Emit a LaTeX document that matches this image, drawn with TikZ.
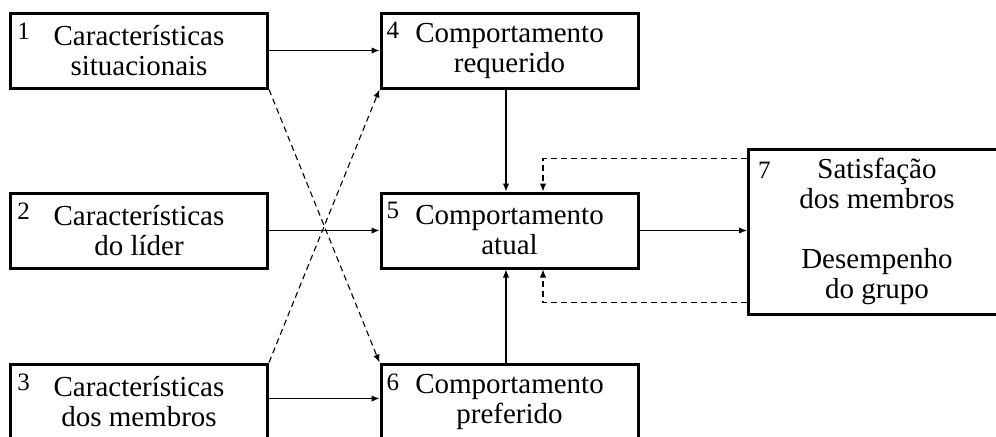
\documentclass[tikz,border=0pt]{standalone}
\usepackage{fontspec}
\setmainfont{Liberation Serif}
\usetikzlibrary{arrows.meta}
\begin{document}
\begin{tikzpicture}[x=0.5pt,y=-0.5pt,
  box/.style={draw, line width=1.5pt, rectangle, minimum width=128.5pt, minimum height=37.5pt,
    align=center, inner sep=0pt, font=\fontsize{14.5}{15}\selectfont},
  bigbox/.style={box, minimum height=82.5pt},
  numlab/.style={anchor=north west, inner sep=0pt, font=\fontsize{12.5}{13}\selectfont},
  arr/.style={-{Latex[length=4pt,width=3.2pt]}, line width=0.55pt},
  darr/.style={arr, dash pattern=on 3pt off 2pt}]
\useasboundingbox (0,0) rectangle (996,436);
\node[box] (b1) at (139,50.5) {Características\\situacionais};
\node[box] (b2) at (139,230.5) {Características\\do líder};
\node[box] (b3) at (139,401.5) {Características\\dos membros};
\node[box] (b4) at (509.5,50.5) {Comportamento\\requerido};
\node[box] (b5) at (509.5,230.5) {Comportamento\\atual};
\node[box] (b6) at (509.5,401.5) {Comportamento\\preferido};
\node[bigbox] (b7) at (877,231.5) {Satisfação\\dos membros\\[15pt]Desempenho\\do grupo};
\node[numlab] (n1) at ([xshift=4pt,yshift=-5.3pt]b1.north west) {1};
\node[numlab] (n2) at ([xshift=4pt,yshift=-5.3pt]b2.north west) {2};
\node[numlab] (n3) at ([xshift=4pt,yshift=-5.3pt]b3.north west) {3};
\node[numlab] (n4) at ([xshift=3.4pt,yshift=-5.3pt]b4.north west) {4};
\node[numlab] (n5) at ([xshift=3.4pt,yshift=-5.3pt]b5.north west) {5};
\node[numlab] (n6) at ([xshift=3.4pt,yshift=-5.3pt]b6.north west) {6};
\node[numlab] (n7) at ([xshift=5.3pt,yshift=-7.2pt]b7.north west) {7};
\draw[arr] (b1) -- (b4);
\draw[arr] (b2) -- (b5);
\draw[arr] ([yshift=1.5pt]b3.east) -- ([yshift=1.5pt]b6.west);
\draw[arr] (b5.east) -- (b5.east -| b7.west);
\draw[arr] ([xshift=-1.75pt]b4.south) -- ([xshift=-1.75pt]b5.north);
\draw[arr] ([xshift=-1.75pt]b6.north) -- ([xshift=-1.75pt]b5.south);
\draw[darr] (b1.south east) -- (b6.north west);
\draw[darr] (b3.north east) -- (b4.south west);
\draw[darr] ([yshift=-5.5pt]b7.north west) -| ([xshift=16.75pt]b5.north);
\draw[darr] ([yshift=6.5pt]b7.south west) -| ([xshift=16.75pt]b5.south);
\end{tikzpicture}
\end{document}
